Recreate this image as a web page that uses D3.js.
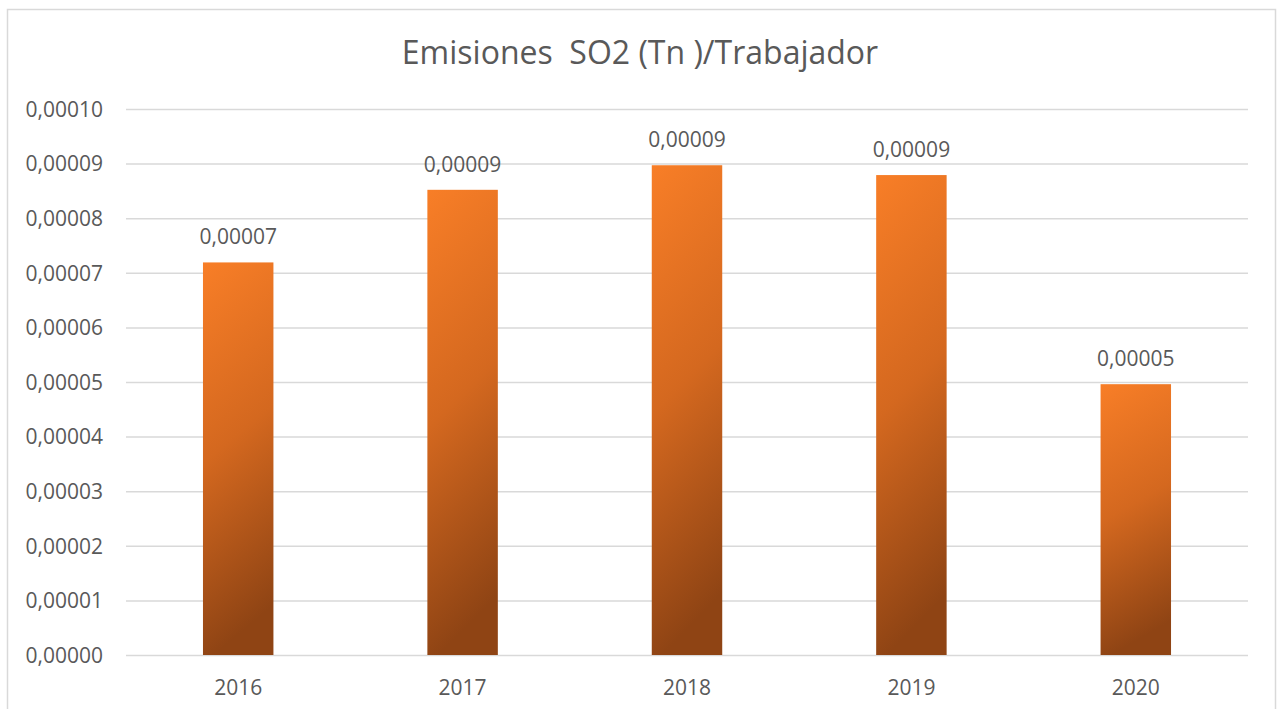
<!DOCTYPE html>
<html>
<head>
<meta charset="utf-8">
<script src="https://cdn.jsdelivr.net/npm/d3@7"></script>
<style>
  html, body { margin: 0; padding: 0; background: #ffffff; }
  svg { display: block; }
  text { font-family: "Open Sans", "Liberation Sans", sans-serif; fill: #595959; }
</style>
</head>
<body>
<svg id="chart" width="1285" height="709"></svg>
<script>
// SO2 emissions (tonnes) per worker, by year
const years = ["2016", "2017", "2018", "2019", "2020"];
const emissions = [0.0000719, 0.0000852, 0.0000897, 0.0000879, 0.0000496];
const yTicks = [0, 0.00001, 0.00002, 0.00003, 0.00004, 0.00005, 0.00006, 0.00007, 0.00008, 0.00009, 0.0001];
const title = "Emisiones  SO2 (Tn )/Trabajador";

const W = 1285, H = 709;
const plot = { left: 126, right: 1248, top: 109, bottom: 655 };

const svg = d3.select("#chart");

// Spanish-style number: comma as decimal separator, five decimals
const fmt = v => d3.format(".5f")(v).replace(".", ",");

// Chart frame
svg.append("rect")
  .attr("x", 7.5).attr("y", 9.5)
  .attr("width", 1268).attr("height", H + 20)
  .attr("fill", "#ffffff")
  .attr("stroke", "#d9d9d9").attr("stroke-width", 1.5);

// Bar fill gradient: bright orange at top fading to dark brown at the bottom
const defs = svg.append("defs");
const grad = defs.append("linearGradient")
  .attr("id", "barFill")
  .attr("x1", 0).attr("y1", 0).attr("x2", 0.15).attr("y2", 1);
grad.append("stop").attr("offset", 0).attr("stop-color", "#f87e27");
grad.append("stop").attr("offset", 0.5).attr("stop-color", "#d4681f");
grad.append("stop").attr("offset", 1).attr("stop-color", "#8f4414");

const x = d3.scaleBand()
  .domain(years)
  .range([plot.left, plot.right])
  .paddingInner(0.686)
  .paddingOuter(0.343);

const y = d3.scaleLinear()
  .domain([0, 0.0001])
  .range([plot.bottom, plot.top]);

// Horizontal gridlines with value labels
const yAxis = d3.axisLeft(y)
  .tickValues(yTicks)
  .tickFormat(fmt)
  .tickSize(-(plot.right - plot.left))
  .tickPadding(23);

const gy = svg.append("g")
  .attr("transform", `translate(${plot.left},0)`)
  .call(yAxis);
gy.select(".domain").remove();
gy.selectAll(".tick line").attr("stroke", "#d9d9d9").attr("stroke-width", 1.5);
gy.selectAll(".tick text")
  .attr("fill", "#595959")
  .style("font-size", "21px")
  .attr("dy", "0.35em");

// Category axis labels
const xAxis = d3.axisBottom(x).tickSize(0).tickPadding(0);
const gx = svg.append("g")
  .attr("transform", `translate(0,${plot.bottom})`)
  .call(xAxis);
gx.select(".domain").remove();
gx.selectAll(".tick text")
  .attr("fill", "#595959")
  .style("font-size", "21px")
  .attr("y", 40)
  .attr("dy", 0);

// Bars
const data = years.map((yr, i) => ({ year: yr, value: emissions[i] }));

svg.append("g")
  .selectAll("rect")
  .data(data)
  .join("rect")
  .attr("x", d => x(d.year))
  .attr("y", d => y(d.value))
  .attr("width", x.bandwidth())
  .attr("height", d => y(0) - y(d.value))
  .attr("fill", "url(#barFill)");

// Value labels above bars
svg.append("g")
  .selectAll("text")
  .data(data)
  .join("text")
  .attr("x", d => x(d.year) + x.bandwidth() / 2)
  .attr("y", d => y(d.value) - 18)
  .attr("text-anchor", "middle")
  .style("font-size", "21px")
  .text(d => fmt(d.value));

// Title (keeps the double space after "Emisiones")
svg.append("text")
  .attr("x", 640)
  .attr("y", 64)
  .attr("text-anchor", "middle")
  .style("font-size", "32px")
  .style("white-space", "pre")
  .text(title);
</script>
</body>
</html>
